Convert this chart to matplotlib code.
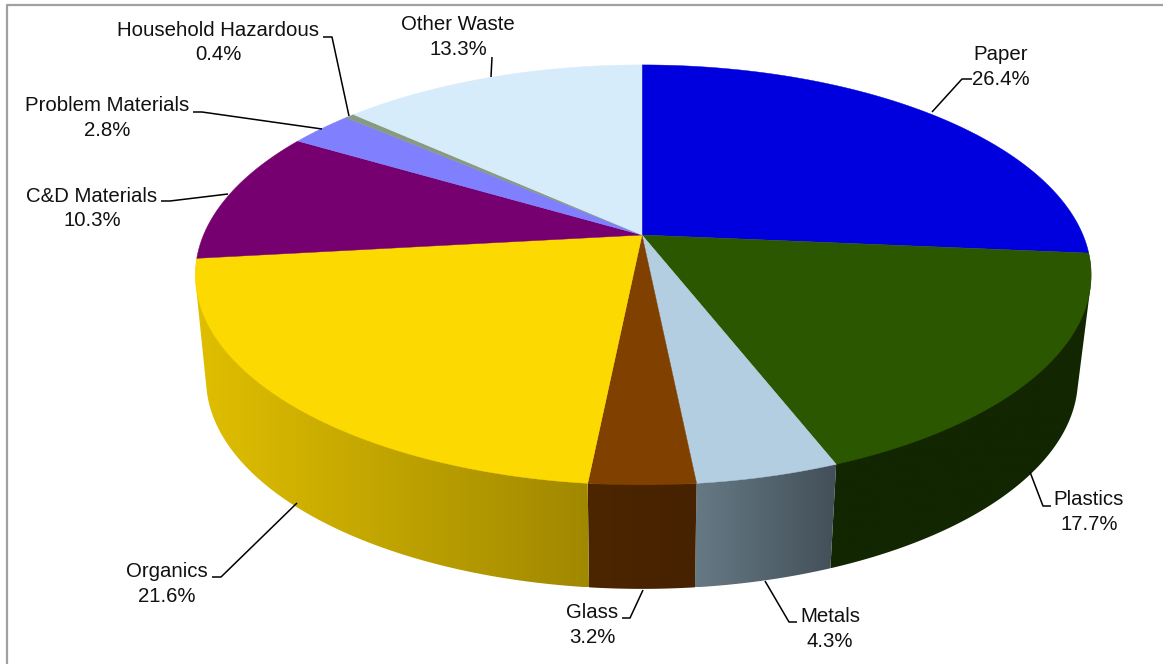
import matplotlib
matplotlib.use('Agg')
import matplotlib.pyplot as plt
from matplotlib.patches import Polygon
import numpy as np

categories = ['Paper', 'Plastics', 'Metals', 'Glass', 'Organics', 'C&D Materials',
              'Problem Materials', 'Household Hazardous', 'Other Waste']
shares = [26.4, 17.7, 4.3, 3.2, 21.6, 10.3, 2.8, 0.4, 13.3]
top_colors = ['#0000DF', '#2B5700', '#B2CEE0', '#804000', '#FCD900', '#770070',
              '#8080FF', '#889A80', '#D6ECFB']
# left / right colour of the visible side faces
side_colors = {'Plastics': ('#132602', '#132602'),
               'Metals': ('#667A85', '#434F58'),
               'Glass': ('#4C2500', '#472200'),
               'Organics': ('#E0BF00', '#A08800')}

label_pos = {'Paper': (1001, 67), 'Plastics': (1089, 512), 'Metals': (830, 629),
             'Glass': (592, 625), 'Organics': (167, 584), 'C&D Materials': (92, 208.5),
             'Problem Materials': (107, 118), 'Household Hazardous': (218, 42.5),
             'Other Waste': (458, 37)}
leaders = {'Paper': [(972, 79), (962, 79), (932, 112)],
           'Plastics': [(1030, 472), (1043, 506), (1051, 506)],
           'Metals': [(765, 581), (789, 622), (797, 622)],
           'Glass': [(643, 590), (630, 618), (622, 618)],
           'Organics': [(297, 503), (221, 577), (212, 577)],
           'C&D Materials': [(228, 194), (170, 201), (161, 201)],
           'Problem Materials': [(322, 129), (202, 112), (193, 112)],
           'Household Hazardous': [(349, 116), (332, 37), (323, 37)],
           'Other Waste': [(491, 77), (492, 57)]}

CX, CY = 642, 235
K = 0.19


def rim(deg, a_right=441, a_left=438.5, ax_b=202.4, y0=CY):
    # circle through a simple perspective, 0 deg = top, clockwise
    t = np.radians(deg)
    u, v = np.sin(t), np.cos(t)
    d = 1 + K * v
    return CX + np.where(u > 0, a_right, a_left) * u / d, y0 - ax_b * v / d


def bottom_rim(deg):
    return rim(deg, a_right=428, a_left=428, y0=339)


def hull(points):
    # monotone chain, keeps the outline tangent between top and bottom rim
    pts = sorted(map(tuple, points))

    def half(seq):
        out = []
        for p in seq:
            while len(out) > 1 and ((out[-1][0] - out[-2][0]) * (p[1] - out[-2][1])
                                    - (out[-1][1] - out[-2][1]) * (p[0] - out[-2][0])) <= 0:
                out.pop()
            out.append(p)
        return out[:-1]

    return np.array(half(pts) + half(pts[::-1]))


fig = plt.figure(figsize=(11.63, 6.64), dpi=100)
ax = fig.add_axes([0, 0, 1, 1])

edges = np.concatenate([[0], np.cumsum(shares)]) * 3.6

# side faces
for name, a0, a1 in zip(categories, edges[:-1], edges[1:]):
    if name not in side_colors:
        continue
    deg = np.linspace(a0, a1, 120)
    tx, ty = rim(deg)
    bx, by = bottom_rim(deg)
    pts = hull(np.vstack([np.column_stack([tx, ty]), np.column_stack([bx, by])]))
    left, right = [np.array(matplotlib.colors.to_rgb(c)) for c in side_colors[name]]
    # gradient always runs left to right in screen space
    grad = np.linspace(left, right, 256)[None, :, :]
    clip = Polygon(pts, closed=True, transform=ax.transData, fc='none', ec='none')
    ax.add_patch(clip)
    im = ax.imshow(grad, extent=(pts[:, 0].min(), pts[:, 0].max(), pts[:, 1].max(), pts[:, 1].min()),
                   aspect='auto', interpolation='bilinear', zorder=2)
    im.set_clip_path(clip)

# top of the pie
for color, a0, a1 in zip(top_colors, edges[:-1], edges[1:]):
    deg = np.linspace(a0, a1, 200)
    x, y = rim(deg)
    pts = np.vstack([[CX, CY], np.column_stack([x, y])])
    ax.add_patch(Polygon(pts, closed=True, fc=color, ec=color, lw=0.3, zorder=3))

# labels
for name, share in zip(categories, shares):
    lx, ly = label_pos[name]
    ax.text(lx, ly, f'{name}\n{share}%', ha='center', va='center', fontsize=14.7,
            family='Liberation Sans', color='#111111', linespacing=1.34, zorder=5)
    pts = np.array(leaders[name])
    ax.plot(pts[:, 0], pts[:, 1], color='black', lw=1.1, zorder=4, solid_capstyle='butt')

# chart frame, only top and left are in the crop
ax.plot([6.5, 6.5, 1163], [664, 4.5, 4.5], color='#A0A0A0', lw=1.6, zorder=1)

ax.set_xlim(0, 1163)
ax.set_ylim(664, 0)
ax.axis('off')
fig.savefig('out.png', dpi=100, facecolor='white')
